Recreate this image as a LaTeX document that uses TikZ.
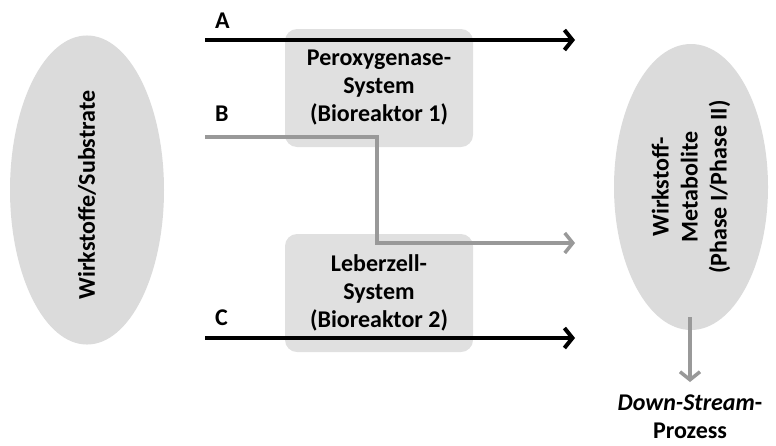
\documentclass[tikz,border=0pt]{standalone}
\usepackage{fontspec}
\setmainfont{Carlito}
\usepackage{tikz}
\usetikzlibrary{arrows.meta,positioning,shapes}

\begin{document}
\begin{tikzpicture}[x=1pt, y=-1pt]
\tikzstyle{main}=[ellipse, fill=black!14, rotate=90, minimum width=286pt, minimum height=154pt, inner sep=0pt, align=center, font=\fontsize{24}{29}\selectfont\bfseries]
\tikzstyle{sys}=[rectangle, rounded corners=12pt, fill=black!12, minimum width=188pt, minimum height=118pt, align=center, font=\fontsize{24}{28}\selectfont\bfseries]
\tikzstyle{lbl}=[inner sep=0pt, font=\fontsize{24}{28}\selectfont\bfseries]
\tikzstyle{connect}=[-{Straight Barb[length=8pt, width=20pt]}, line width=4pt]
\tikzstyle{grey}=[connect, black!40, line width=3.5pt]

  \useasboundingbox (0,0) rectangle (776,445);

  \node[main] (subst) at (87,190)  {Wirkstoffe/Substrate\hspace*{10pt}};
  \node[main] (metab) at (691,187) {Wirkstoff-\\Metabolite\\(Phase I/Phase II)};

  \node[sys] (reak1) at (379,88) {Peroxygenase-\\System\\(Bioreaktor 1)};
  \node[sys] (reak2) [below of =reak1, node distance=205pt] {Leberzell-\\System\\(Bioreaktor 2)};

  \coordinate (aStart) at (205,40);
  \coordinate (aEnd)   at (575,40);
  \coordinate (bStart) at (205,137);
  \coordinate (bEnd)   at (575,243);
  \coordinate (cStart) at (205,338);
  \coordinate (cEnd)   at (575,338);
  \coordinate (dsStart) at (690,317);
  \coordinate (dsEnd)   at (690,382);

  \node[lbl] (labA) [above right=11pt and 10pt of aStart] {A};
  \node[lbl] (labB) [above right=15pt and 10pt of bStart] {B};
  \node[lbl] (labC) [above right=12pt and 10pt of cStart] {C};
  \node[lbl, align=center] (ds) [below=13pt of dsEnd] {\textit{Down-Stream}-\\Prozess};

  \path (aStart) edge [connect] (aEnd);
  \draw[grey] (bStart) -| ([xshift=-2pt]reak1.center |- bEnd) -- (bEnd);
  \path (cStart) edge [connect] (cEnd);
  \path (dsStart) edge [grey] (dsEnd);

\end{tikzpicture}
\end{document}
